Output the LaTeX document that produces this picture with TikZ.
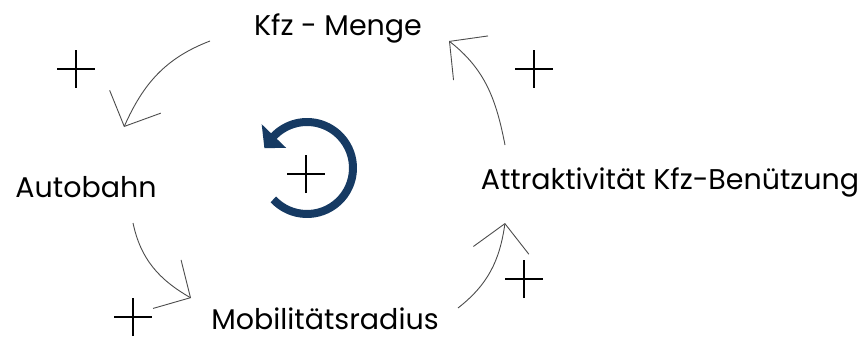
\documentclass[tikz,border=0pt]{standalone}
\usepackage{fontspec}
\setmainfont{Poppins}
\usetikzlibrary{arrows.meta}
\definecolor{loopblue}{RGB}{22,58,99}

\begin{document}
\begin{tikzpicture}[x=1pt,y=1pt,
  factor/.style={inner sep=0pt,anchor=base,font=\fontsize{28.5}{32}\selectfont},
  link/.style={color=black!70,line width=0.9pt,-{Straight Barb[length=27pt,width=56pt]}},
  plusmark/.style={color=black,line width=2.7pt}]
\useasboundingbox (0,0) rectangle (867,338);
% the four factors
\node[factor] (kfz) at (338,302) {Kfz - Menge};
\node[factor] (auto) at (86,141) {Autobahn};
\node[factor] (mobil) at (325,9) {Mobilitätsradius};
\node[factor] (attr) at (670,149) {Attraktivität Kfz-Benützung};
% links between them
\draw[link] ([shift={(-128,-5)}]kfz.base) to[out=201,in=66] ([shift={(38,70)}]auto.base);
\draw[link] ([shift={(47,-26)}]auto.base) to[out=-78,in=150] ([shift={(-134,31)}]mobil.base);
\draw[link] ([shift={(133,21)}]mobil.base) to[out=38,in=-98] ([shift={(-165,-34)}]attr.base);
\draw[link] ([shift={(-165,44)}]attr.base) to[out=101,in=-38] ([shift={(111,-5)}]kfz.base);
% signs
\foreach \px/\py in {76/269,534/269,133/21,524/59} {
  \draw[plusmark] (\px-19,\py) -- (\px+19,\py);
  \draw[plusmark] (\px,\py-19) -- (\px,\py+19);
}
% loop symbol
\coordinate (loop) at (307,170);
\draw[color=loopblue,line width=8pt] (loop) ++(-137:46) arc[start angle=-137,end angle=137,radius=46];
\fill[color=loopblue] ([shift={(136:63)}]loop) -- ([shift={(155:47)}]loop) -- ([shift={(136:29)}]loop) -- cycle;
\draw[plusmark,line width=2pt] (287,164) -- (325,164);
\draw[plusmark,line width=2pt] (306,145) -- (306,183);
\end{tikzpicture}
\end{document}
